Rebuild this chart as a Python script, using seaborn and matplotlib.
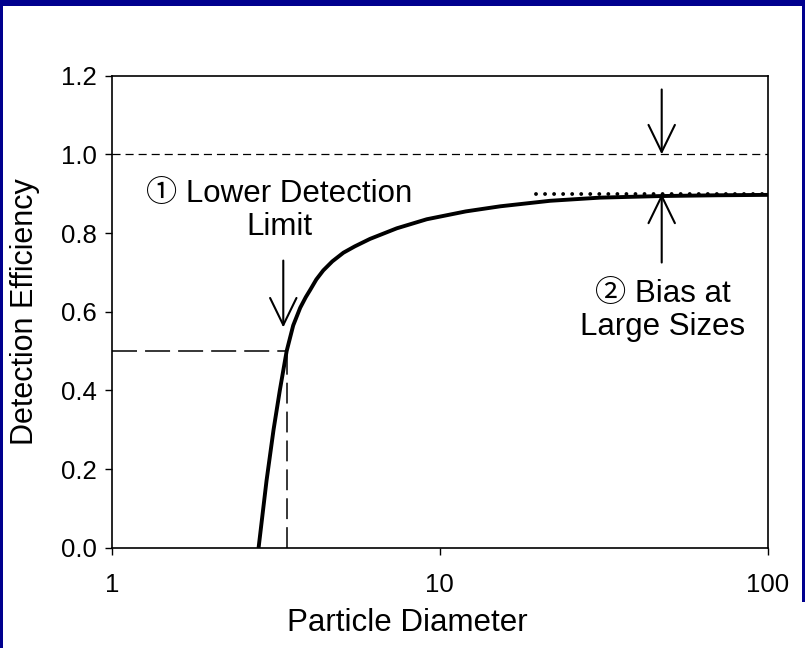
import matplotlib
matplotlib.use("Agg")
import matplotlib.pyplot as plt
import seaborn as sns
import pandas as pd
from matplotlib.patches import Rectangle

# ---- data ----
diameter = [2.80, 2.96, 3.11, 3.25, 3.41, 3.57, 3.75, 3.90, 4.02, 4.20, 4.41, 4.70,
            5.08, 5.50, 6.12, 7.39, 9.12, 12.0, 15.3, 21.7, 30.8, 47.0, 70.0, 100.0]
efficiency = [0.00, 0.17, 0.30, 0.40, 0.50, 0.565, 0.61, 0.637, 0.655, 0.682, 0.705,
              0.728, 0.75, 0.766, 0.785, 0.812, 0.835, 0.855, 0.868, 0.882, 0.890,
              0.894, 0.896, 0.897]
ideal_eff = 1.0
d50 = 3.41
half_eff = 0.5
plateau_eff = 0.90
plateau_range = [19.7, 100.0]
x_ticks = [1, 10, 100]
x_ticklabels = ["1", "10", "100"]
y_ticks = [0.0, 0.2, 0.4, 0.6, 0.8, 1.0, 1.2]
y_ticklabels = ["0.0", "0.2", "0.4", "0.6", "0.8", "1.0", "1.2"]
label1 = "\u2460 Lower Detection\nLimit"
label2 = "\u2461 Bias at\nLarge Sizes"

sns.set_theme(style="white")
fam = ["Liberation Sans", "Noto Sans CJK JP", "DejaVu Sans"]
plt.rcParams["font.family"] = fam
plt.rcParams["text.color"] = "black"
plt.rcParams["lines.scale_dashes"] = False

W, H = 805, 648
fig = plt.figure(figsize=(W / 100, H / 100), dpi=100)
navy = "#00008e"
fig.patch.set_facecolor(navy)
# white inner panel (navy border top/left/right)
fig.patches.append(Rectangle((3 / W, 0), (802 - 3) / W, (H - 6) / H,
                             transform=fig.transFigure, facecolor="white",
                             edgecolor="none", zorder=-5))
fig.patches.append(Rectangle((802 / W, 0), 3 / W, (H - 602) / H,
                             transform=fig.transFigure, facecolor="white",
                             edgecolor="none", zorder=-5))

ax = fig.add_axes([112 / W, (H - 547.7) / H, (767.7 - 112) / W, (547.7 - 75.7) / H])
ax.set_facecolor("none")
ax.set_zorder(2)

df = pd.DataFrame({"Particle Diameter": diameter, "Detection Efficiency": efficiency})
sns.lineplot(data=df, x="Particle Diameter", y="Detection Efficiency", ax=ax,
             color="black", lw=2.8, sort=False, zorder=5)
ax.set_xscale("log")
ax.set_xlim(1, 100)
ax.set_ylim(0, 1.2)

# reference lines
ax.axhline(ideal_eff, color="black", lw=0.9, ls=(0, (5.8, 3.6)), zorder=3)
ax.plot([1, d50], [half_eff, half_eff], color="black", lw=1.1, ls=(0, (18, 5.8)), zorder=3)
ax.plot([d50, d50], [0, half_eff], color="black", lw=1.1, ls=(0, (15, 5.8)), zorder=3)
ax.plot(plateau_range, [plateau_eff, plateau_eff], color="black", lw=2.8,
        ls=(0, (0.01, 6.5)), dash_capstyle="round", zorder=4)

# arrows
ap = dict(arrowstyle="->,head_length=1.95,head_width=0.95", lw=1.5, color="black",
          shrinkA=0, shrinkB=0, mutation_scale=10)
ax.annotate("", xy=(3.33, 0.56), xytext=(3.33, 0.73), arrowprops=ap)
ax.annotate("", xy=(47.5, 1.0), xytext=(47.5, 1.165), arrowprops=ap, annotation_clip=False)
ax.annotate("", xy=(47.5, 0.90), xytext=(47.5, 0.725), arrowprops=ap)

ax.text(3.23, 0.857, label1, ha="center", va="center", fontsize=22.5,
        linespacing=1.13, family=fam, color="black")
ax.text(47.8, 0.602, label2, ha="center", va="center", fontsize=22.5,
        linespacing=1.13, family=fam, color="black")

# axes styling
ax.set_xticks(x_ticks)
ax.set_xticklabels(x_ticklabels)
ax.xaxis.set_minor_locator(matplotlib.ticker.NullLocator())
ax.set_yticks(y_ticks)
ax.set_yticklabels(y_ticklabels)
ax.tick_params(axis="both", direction="out", length=5, width=1, color="black",
               labelsize=18.5, labelcolor="black", left=True, bottom=True)
ax.tick_params(axis="y", pad=6)
ax.tick_params(axis="x", pad=13)
for s in ax.spines.values():
    s.set_visible(True)
    s.set_color("black")
    s.set_linewidth(1.2)
ax.set_xlabel("Particle Diameter", fontsize=22.5, color="black")
ax.xaxis.set_label_coords(0.451, -0.128)
ax.set_ylabel("Detection Efficiency", fontsize=22, color="black")
ax.yaxis.set_label_coords(-0.11, 0.5)

fig.savefig("out.png", dpi=100, facecolor=fig.get_facecolor())
